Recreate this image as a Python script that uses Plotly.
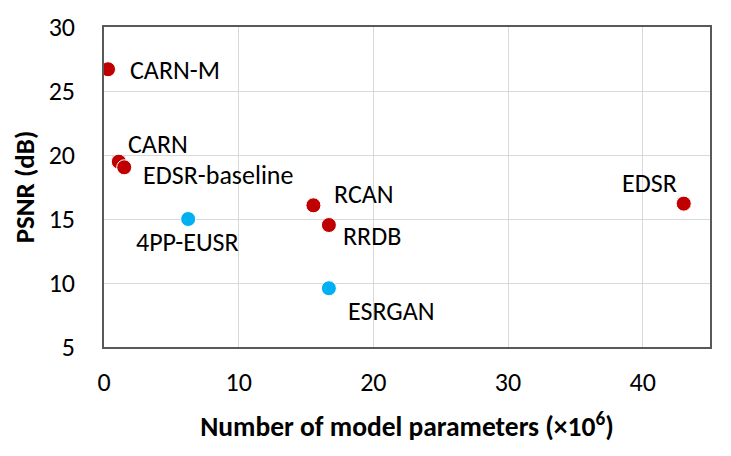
import plotly.graph_objects as go

models = ["CARN-M", "CARN", "EDSR-baseline", "4PP-EUSR", "RCAN", "RRDB", "ESRGAN", "EDSR"]
params_m = [0.3, 1.1, 1.5, 6.25, 15.55, 16.7, 16.7, 43.05]
psnr_db = [26.7, 19.48, 19.04, 15.0, 16.07, 14.53, 9.59, 16.2]
group = ["red", "red", "red", "blue", "red", "red", "blue", "red"]

x_ticks = [0, 10, 20, 30, 40]
y_ticks = [5, 10, 15, 20, 25, 30]

colors = {"red": "#C00000", "blue": "#00B0F0"}
# label offsets in px (style)
offsets = {
    "CARN-M": (20, -1),
    "CARN": (7, 18),
    "EDSR-baseline": (17, -8),
    "4PP-EUSR": (-54, -23),
    "RCAN": (19, 11),
    "RRDB": (12, -11),
    "ESRGAN": (17, -23),
    "EDSR": (-64, 21),
}

FONT = "Carlito, Calibri, Lato, sans-serif"

fig = go.Figure()
fig.add_trace(go.Scatter(
    x=params_m, y=psnr_db, mode="markers",
    marker=dict(size=15, color=[colors[g] for g in group],
                line=dict(color="white", width=1)),
    hoverinfo="skip", showlegend=False,
))

for m, xv, yv in zip(models, params_m, psnr_db):
    dx, dy = offsets[m]
    fig.add_annotation(x=xv, y=yv, text=m, showarrow=False,
                       xanchor="left", yanchor="middle",
                       xshift=dx, yshift=dy,
                       font=dict(family=FONT, size=26, color="#000000"))

fig.update_layout(
    width=723, height=448,
    margin=dict(l=96, r=21, t=19, b=109),
    paper_bgcolor="white", plot_bgcolor="white",
    font=dict(family=FONT, size=26, color="#000000"),
    xaxis=dict(range=[0, 45], tickvals=x_ticks, showgrid=True, automargin=False,
               gridcolor="#D9D9D9", gridwidth=1.3, zeroline=False,
               showline=True, mirror=True, linecolor="#595959", linewidth=1.5,
               ticks="", ticklabelstandoff=11,
               title=dict(text="<b>Number of model parameters (×10<sup>6</sup>)</b>",
                          font=dict(family=FONT, size=27.5), standoff=20)),
    yaxis=dict(range=[5, 30], tickvals=y_ticks, showgrid=True, automargin=False,
               gridcolor="#D9D9D9", gridwidth=1.3, zeroline=False,
               showline=True, mirror=True, linecolor="#595959", linewidth=1.5,
               ticks="", ticklabelstandoff=22,
               title=dict(text="<b>PSNR (dB)</b>",
                          font=dict(family=FONT, size=27), standoff=8)),
)

fig.write_html("out.html")
